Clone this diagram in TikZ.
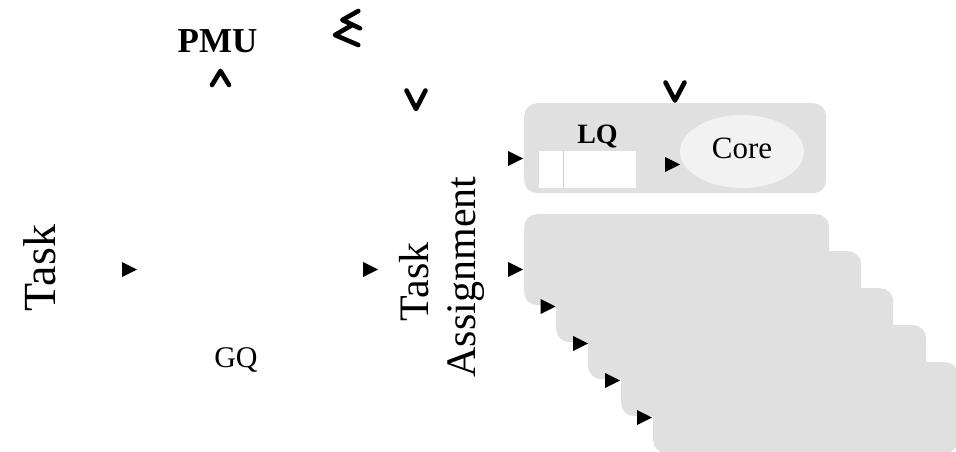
\documentclass[tikz,border=0pt]{standalone}
\usepackage{fontspec}
\setmainfont{Liberation Serif}
\usetikzlibrary{shapes.geometric}
\definecolor{boxgray}{HTML}{E0E0E0}
\definecolor{corefill}{HTML}{F2F2F2}
\definecolor{divgray}{HTML}{D0D0D0}
\begin{document}
\begin{tikzpicture}[x=1pt,y=-1pt,
  gbox/.style={fill=boxgray, draw=none, rounded corners=13pt, inner sep=0pt, anchor=north west},
  txt/.style={inner sep=0pt, anchor=base},
  tip/.pic={\fill (0,0) -- (-15,-7.5) -- (-15,7.5) -- cycle;},
  chevron/.style={line width=4.6pt, line cap=round, line join=round}]
\useasboundingbox (0,0) rectangle (956,452);

% stacked core boxes
\node[gbox, minimum width=305pt, minimum height=91pt] (b5) at (653,362) {};
\node[gbox, minimum width=305pt, minimum height=91pt] (b4) at (621,325) {};
\node[gbox, minimum width=305pt, minimum height=91pt] (b3) at (588,288) {};
\node[gbox, minimum width=305pt, minimum height=91pt] (b2) at (556,251) {};
\node[gbox, minimum width=305pt, minimum height=91pt] (b1) at (524,214) {};

% top core box
\node[gbox, minimum width=302pt, minimum height=90pt] (lqbox) at (524,103) {};
\node[fill=white, inner sep=0pt, anchor=north west, minimum width=97pt, minimum height=37pt] (lq) at (539,151) {};
\coordinate (d1) at (563,151);
\coordinate (d2) at (563,188);
\draw[divgray, line width=0.8pt] (d1) -- (d2);
\node[ellipse, fill=corefill, inner sep=0pt, minimum width=124pt, minimum height=73pt] (core) at (742,151.5) {};
\node[txt, font=\fontsize{31}{36}\selectfont] (corelbl) at (742,158) {Core};
\node[txt, font=\fontsize{28}{33}\selectfont\bfseries] (lqlbl) at (597.5,143) {LQ};

% texts
\node[txt, font=\fontsize{35}{40}\selectfont\bfseries] (pmu) at (217.5,53) {PMU};
\node[txt, font=\fontsize{46}{52}\selectfont, rotate=90] (task) at (55,268) {Task};
\node[txt, font=\fontsize{42}{47}\selectfont, rotate=90] (tasklbl) at (428,282) {Task};
\node[txt, font=\fontsize{42}{47}\selectfont, rotate=90] (assignlbl) at (475,277) {Assignment};
\node[txt, font=\fontsize{30}{36}\selectfont] (gq) at (236,367) {GQ};

% arrowheads
\pic at (137,269.5) {tip};
\pic at (378,269.5) {tip};
\pic at (523,269.5) {tip};
\pic at (555.5,306.5) {tip};
\pic at (588,343.5) {tip};
\pic at (620,380.5) {tip};
\pic at (652,417.5) {tip};
\pic at (523,158.5) {tip};
\pic at (680,164.5) {tip};

% open chevrons
\draw[chevron] (212,85) -- (220.5,71) -- (229,85);
\draw[chevron] (406.5,90.5) -- (416,109) -- (425.5,90.5);
\draw[chevron] (665.5,82.5) -- (675,100.5) -- (684.5,82.5);
\draw[chevron] (358.3,11) -- (342.3,20) -- (360,28.3);
\draw[chevron] (351,25.7) -- (335,35) -- (358.3,45);
\end{tikzpicture}
\end{document}
